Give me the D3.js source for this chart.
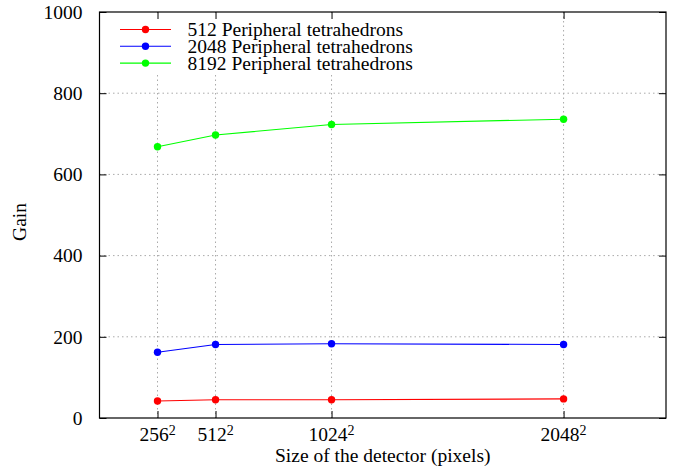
<!DOCTYPE html>
<html>
<head>
<meta charset="utf-8">
<script src="https://cdn.jsdelivr.net/npm/d3@7"></script>
<style>
  body { margin: 0; background: #fff; }
</style>
</head>
<body>
<div id="chart"></div>
<script>
var sizes = [256, 512, 1024, 2048];
var seriesNames = ['512 Peripheral tetrahedrons', '2048 Peripheral tetrahedrons', '8192 Peripheral tetrahedrons'];
var seriesColors = ['#ff0000', '#0000ff', '#00ff00'];
var gain512 = [42, 45, 45, 47];
var gain2048 = [162, 181, 183, 181];
var gain8192 = [668, 697, 723, 736];
var yTicks = [0, 200, 400, 600, 800, 1000];

var seriesValues = [gain512, gain2048, gain8192];
var FONT = 'Liberation Serif';
var FS = 19.5;

var margin = { left: 99.5, right: 17, top: 12, bottom: 56 };
var W = 683, H = 474;
var width = W - margin.left - margin.right,
    height = H - margin.top - margin.bottom;

var svg = d3.select('#chart')
    .append('svg')
    .attr('width', W)
    .attr('height', H)
    .attr('font-family', FONT)
    .append('g')
    .attr('transform', 'translate(' + margin.left + ',' + margin.top + ')');

var x = d3.scaleLinear().domain([0, 2500]).range([0, width]);
var y = d3.scaleLinear().domain([0, 1000]).range([height, 0]);

// grid
svg.append('g').selectAll('line')
    .data(yTicks.slice(1, -1))
    .enter().append('line')
    .attr('x1', 0).attr('x2', width)
    .attr('y1', function (d) { return y(d); })
    .attr('y2', function (d) { return y(d); })
    .attr('stroke', '#aaa').attr('stroke-width', 1)
    .attr('stroke-dasharray', '1.5,3');
svg.append('g').selectAll('line')
    .data(sizes)
    .enter().append('line')
    .attr('x1', function (d) { return x(d); })
    .attr('x2', function (d) { return x(d); })
    .attr('y1', 0).attr('y2', height)
    .attr('stroke', '#aaa').attr('stroke-width', 1)
    .attr('stroke-dasharray', '1.5,3');

// legend background covers grid
svg.append('rect')
    .attr('x', 1).attr('y', 1)
    .attr('width', 318).attr('height', 59)
    .attr('fill', '#fff');

// axes with inward ticks, mirrored
var yAxisL = svg.append('g')
    .call(d3.axisLeft(y).tickValues(yTicks).tickFormat(d3.format('d'))
        .tickSizeInner(-7).tickSizeOuter(0).tickPadding(17));
var yAxisR = svg.append('g')
    .attr('transform', 'translate(' + width + ',0)')
    .call(d3.axisRight(y).tickValues(yTicks).tickSizeInner(-7).tickSizeOuter(0).tickFormat(''));
var xAxisB = svg.append('g')
    .attr('transform', 'translate(0,' + height + ')')
    .call(d3.axisBottom(x).tickValues(sizes).tickSizeInner(-7).tickSizeOuter(0).tickFormat(''));
var xAxisT = svg.append('g')
    .call(d3.axisTop(x).tickValues(sizes).tickSizeInner(-7).tickSizeOuter(0).tickFormat(''));

[yAxisL, yAxisR, xAxisB, xAxisT].forEach(function (a) {
    a.attr('font-family', FONT);
    a.select('.domain').remove();
    a.selectAll('line').attr('stroke', '#000');
});
yAxisL.selectAll('text')
    .attr('font-family', FONT)
    .attr('font-size', FS)
    .attr('fill', '#000')
    .attr('dy', '0.32em');

// x tick labels with superscript
var xl = svg.append('g').selectAll('text')
    .data(sizes)
    .enter().append('text')
    .attr('x', function (d) { return x(d); })
    .attr('y', height + 22.7)
    .attr('text-anchor', 'middle')
    .attr('font-family', FONT)
    .attr('font-size', FS);
xl.append('tspan').text(function (d) { return d; });
xl.append('tspan').attr('dy', -6).attr('font-size', 14).text('2');

// frame
svg.append('rect')
    .attr('width', width).attr('height', height)
    .attr('fill', 'none').attr('stroke', '#000').attr('stroke-width', 1.2);

// series
var line = d3.line()
    .x(function (d, i) { return x(sizes[i]); })
    .y(function (d) { return y(d); });

seriesValues.forEach(function (vals, k) {
    svg.append('path')
        .datum(vals)
        .attr('d', line)
        .attr('fill', 'none')
        .attr('stroke', seriesColors[k])
        .attr('stroke-width', 1.1);
    svg.append('g').selectAll('circle')
        .data(vals)
        .enter().append('circle')
        .attr('cx', function (d, i) { return x(sizes[i]); })
        .attr('cy', function (d) { return y(d); })
        .attr('r', 3.7)
        .attr('fill', seriesColors[k]);
});

// legend
var leg = svg.append('g').selectAll('g')
    .data(seriesNames)
    .enter().append('g')
    .attr('transform', function (d, i) { return 'translate(0,' + (17.5 + i * 16.8) + ')'; });
leg.append('line')
    .attr('x1', 20.5).attr('x2', 71.5)
    .attr('stroke', function (d, i) { return seriesColors[i]; })
    .attr('stroke-width', 1.1);
leg.append('circle')
    .attr('cx', 46).attr('r', 3.7)
    .attr('fill', function (d, i) { return seriesColors[i]; });
leg.append('text')
    .attr('x', 88).attr('dy', '0.33em')
    .attr('font-family', FONT)
    .attr('font-size', FS)
    .text(function (d) { return d; });

// axis titles
svg.append('text')
    .attr('x', width / 2).attr('y', height + 44)
    .attr('text-anchor', 'middle')
    .attr('font-family', FONT)
    .attr('font-size', FS)
    .text('Size of the detector (pixels)');
svg.append('text')
    .attr('transform', 'translate(' + (-73.5) + ',' + (height / 2 + 7) + ') rotate(-90)')
    .attr('text-anchor', 'middle')
    .attr('font-family', FONT)
    .attr('font-size', FS)
    .text('Gain');
</script>
</body>
</html>
